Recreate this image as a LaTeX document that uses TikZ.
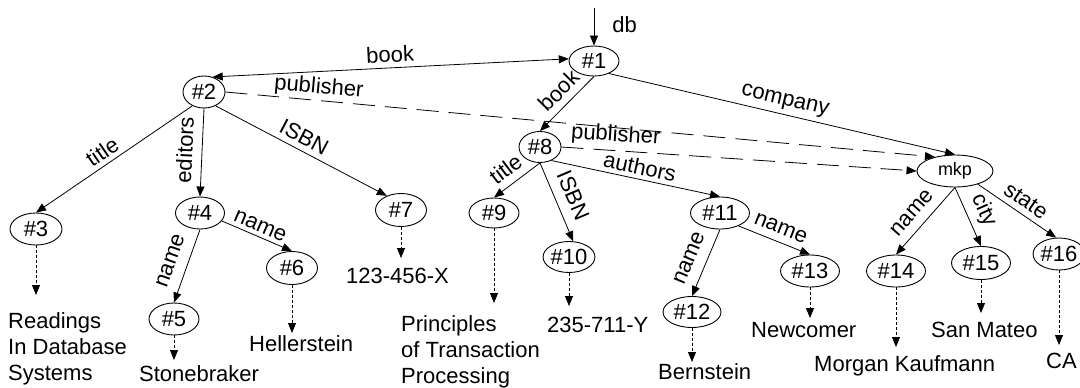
\documentclass[tikz,border=0pt]{standalone}
\usepackage{fontspec}
\setmainfont{Liberation Sans}
\usetikzlibrary{shapes.geometric,arrows.meta}
\newcommand\myfs{\fontsize{22}{26}\selectfont}
\newcommand\mymfs{\fontsize{18}{22}\selectfont}
\begin{document}
\begin{tikzpicture}[x=1pt,y=-1pt,
  nd/.style={ellipse, draw, line width=0.9pt, inner sep=0pt, font=\myfs},
  val/.style={anchor=north west, inner sep=0pt, align=left, font=\myfs},
  lab/.style={font=\myfs, inner sep=0pt, sloped},
  tipa/.style={-{Triangle[length=10pt,width=8pt]}, line width=0.8pt},
  dbl/.style={{Triangle[length=10pt,width=8pt]}-{Triangle[length=10pt,width=8pt]}, line width=0.8pt},
  refl/.style={tipa, dash pattern=on 22pt off 10pt},
  vref/.style={tipa, dash pattern=on 3pt off 2pt}]
\useasboundingbox (0,0) rectangle (1080,388);
% nodes
\node[nd, minimum width=50pt, minimum height=30pt] (n1) at (594,61) {\#1};
\node[nd, minimum width=42pt, minimum height=32pt] (n2) at (204,92) {\#2};
\node[nd, minimum width=52pt, minimum height=32pt] (n3) at (36,229) {\#3};
\node[nd, minimum width=49pt, minimum height=32pt] (n4) at (200,213) {\#4};
\node[nd, minimum width=50pt, minimum height=32pt] (n5) at (174,319) {\#5};
\node[nd, minimum width=51pt, minimum height=33pt] (n6) at (292,268) {\#6};
\node[nd, minimum width=51pt, minimum height=33pt] (n7) at (401,210) {\#7};
\node[nd, minimum width=42pt, minimum height=31pt] (n8) at (540,147) {\#8};
\node[nd, minimum width=50pt, minimum height=30pt] (n9) at (494,213) {\#9};
\node[nd, minimum width=50pt, minimum height=31pt] (n10) at (569,257) {\#10};
\node[nd, minimum width=59pt, minimum height=32pt] (n11) at (720,213) {\#11};
\node[nd, minimum width=58pt, minimum height=31pt] (n12) at (692,312) {\#12};
\node[nd, minimum width=59pt, minimum height=32pt] (n13) at (810,271) {\#13};
\node[nd, font=\mymfs, minimum width=76pt, minimum height=32pt] (mkp) at (955,171) {mkp};
\node[nd, minimum width=59pt, minimum height=32pt] (n14) at (896,271) {\#14};
\node[nd, minimum width=59pt, minimum height=33pt] (n15) at (981,263) {\#15};
\node[nd, minimum width=50pt, minimum height=32pt] (n16) at (1059,254) {\#16};
% values
\node[val] (t3) at (8,312) {Readings\\In Database\\Systems};
\node[val] (t5) at (139,365) {Stonebraker};
\node[val] (t6) at (249,335) {Hellerstein};
\node[val] (t7) at (346,268) {123-456-X};
\node[val] (t9) at (401,315) {Principles\\of Transaction\\Processing};
\node[val] (t10) at (547,317) {235-711-Y};
\node[val] (t12) at (658,363) {Bernstein};
\node[val] (t13) at (751,322) {Newcomer};
\node[val] (t14) at (814,355) {Morgan Kaufmann};
\node[val] (t15) at (931,322) {San Mateo};
\node[val] (t16) at (1046,353) {CA};
% root
\coordinate (dbc) at (594,8);
\draw[tipa] (dbc) -- node[pos=.45, anchor=west, inner sep=0pt, xshift=18pt, font=\myfs]{db} (n1.north);
% edges
\draw[dbl] (n1.175) -- node[lab, above=5pt, pos=.5]{book} (n2.60);
\draw[refl] (n2.east) -- node[lab, above=2pt, pos=.13]{publisher} (mkp.145);
\draw[tipa] (n1.south) -- node[lab, above=6.8pt, pos=.45]{book} (n8.north);
\draw[tipa] (n1.-40) -- node[lab, above=4.3pt, pos=.5]{company} (mkp.north);
\draw[refl] (n8.east) -- node[lab, above=4.4pt, pos=.15]{publisher} (mkp.west);
\draw[tipa] (n8.-50) -- node[lab, above=4pt, pos=.51]{authors} (n11.north);
\draw[tipa] (n2.230) -- node[lab, above=4.6pt, pos=.53]{title} (n3.north);
\draw[tipa] (n2.south) -- node[lab, above=9pt, pos=.48]{editors} (n4.north);
\draw[tipa] (n2.-50) -- node[lab, above=5.5pt, pos=.48]{ISBN} (n7.135);
\draw[tipa] (n4.south) -- node[lab, above=11pt, pos=.51]{name} (n5.north);
\draw[tipa] (n4.-20) -- node[lab, above=3.6pt, pos=.49]{name} (n6.north);
\draw[tipa] (n8.south) -- node[lab, above=7.4pt, pos=.54]{title} (n9.north);
\draw[tipa] (n8.south) -- node[lab, above=9.8pt, pos=.5]{ISBN} (n10.75);
\draw[tipa] (n11.south) -- node[lab, above=11pt, pos=.53]{name} (n12.north);
\draw[tipa] (n11.-35) -- node[lab, above=7.3pt, pos=.52]{name} (n13.north);
\draw[tipa] (mkp.south) -- node[lab, above=9pt, pos=.53]{name} (n14.north);
\draw[tipa] (mkp.south) -- node[lab, above=6pt, pos=.51]{city} (n15.north);
\draw[tipa] (mkp.-30) -- node[lab, above=5.7pt, pos=.52]{state} (n16.100);
% value arrows
\draw[vref, shorten >=17pt] (n3.south) -- (n3.south |- t3.north);
\draw[vref, shorten >=5pt] (n5.south) -- (n5.south |- t5.north);
\draw[vref, shorten >=2pt] (n6.south) -- (n6.south |- t6.north);
\draw[vref, shorten >=10pt] (n7.south) -- (n7.south |- t7.north);
\draw[vref, shorten >=12pt] (n9.south) -- (n9.south |- t9.north);
\draw[vref, shorten >=11pt] (n10.south) -- (n10.south |- t10.north);
\draw[vref, shorten >=1pt] (n12.south) -- (n12.south |- t12.north);
\draw[vref, shorten >=4pt] (n13.south) -- (n13.south |- t13.north);
\draw[vref, shorten >=8pt] (n14.south) -- (n14.south |- t14.north);
\draw[vref, shorten >=9pt] (n15.south) -- (n15.south |- t15.north);
\draw[vref, shorten >=8pt] (n16.south) -- (n16.south |- t16.north);
\end{tikzpicture}
\end{document}
